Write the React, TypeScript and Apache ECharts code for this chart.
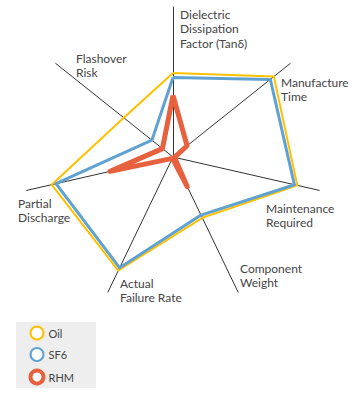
import React, { useEffect, useRef } from "react";
import * as echarts from "echarts";

const indicators = [
  "Dielectric Dissipation Factor (Tanδ)",
  "Flashover Risk",
  "Partial Discharge",
  "Actual Failure Rate",
  "Component Weight",
  "Maintenance Required",
  "Manufacture Time",
];
const axisLabels = [
  "Dielectric\nDissipation\nFactor (Tanδ)",
  "Flashover\nRisk",
  "Partial\nDischarge",
  "Actual\nFailure Rate",
  "Component\nWeight",
  "Maintenance\nRequired",
  "Manufacture\nTime",
];
const seriesNames = ["Oil", "SF6", "RHM"];
const oilValues = [5.6, 4.2, 8.3, 8.4, 4.5, 8.5, 8.6];
const sf6Values = [5.3, 1.8, 8.0, 8.2, 4.3, 8.3, 8.3];
const rhmValues = [4.1, 0.9, 4.3, 0.1, 2.2, 0.1, 1.2];
const maxValue = 10;

const colors = ["#FFC000", "#5FA2D2", "#E8613F"];
const widths = [2, 3, 5];
const labelPos = [
  [180, 7],
  [76, 51],
  [18, 196],
  [120, 276],
  [240, 261],
  [266, 201],
  [281, 75],
];

export default function App() {
  const ref = useRef<HTMLDivElement>(null);
  useEffect(() => {
    document.body.style.margin = "0";
    const chart = echarts.init(ref.current!, null, { renderer: "svg" });
    const values = [oilValues, sf6Values, rhmValues];
    chart.setOption({
      animation: false,
      backgroundColor: "#ffffff",
      textStyle: { fontFamily: "Lato" },
      radar: {
        center: [173, 157],
        radius: 150,
        startAngle: 90,
        shape: "polygon",
        splitNumber: 1,
        indicator: indicators.map((n) => ({ name: n, min: 0, max: maxValue })),
        axisName: { show: false },
        splitLine: { show: false },
        splitArea: { show: false },
        axisLine: { lineStyle: { color: "#333", width: 1 } },
        axisTick: { show: false },
        axisLabel: { show: false },
      },
      legend: {
        orient: "vertical",
        left: 28.5,
        top: 325.5,
        itemWidth: 13,
        itemHeight: 13,
        itemGap: 6.5,
        padding: 0,
        icon: "circle",
        textStyle: { color: "#444", fontSize: 11, lineHeight: 13, fontFamily: "Lato" },
        data: seriesNames.map((n, i) => ({
          name: n,
          itemStyle: {
            color: "#ffffff",
            borderColor: colors[i],
            borderWidth: i === 2 ? 4 : 2,
          },
        })),
      },
      graphic: [
        {
          type: "rect",
          left: 16,
          top: 322,
          shape: { width: 80, height: 66 },
          style: { fill: "#eeeeee" },
          z: -10,
        },
        ...axisLabels.map((t, i) => ({
          type: "text",
          x: labelPos[i][0],
          y: labelPos[i][1],
          style: {
            text: t,
            fill: "#444",
            font: "12px Lato",
            lineHeight: 14.5,
          },
        })),
      ],
      series: [
        {
          type: "radar",
          symbol: "none",
          data: seriesNames.map((n, i) => ({
            name: n,
            value: values[i],
            lineStyle: { color: colors[i], width: widths[i] },
            itemStyle: { color: colors[i] },
          })),
        },
      ],
    });
    return () => chart.dispose();
  }, []);
  return <div ref={ref} style={{ width: 360, height: 396 }} />;
}
